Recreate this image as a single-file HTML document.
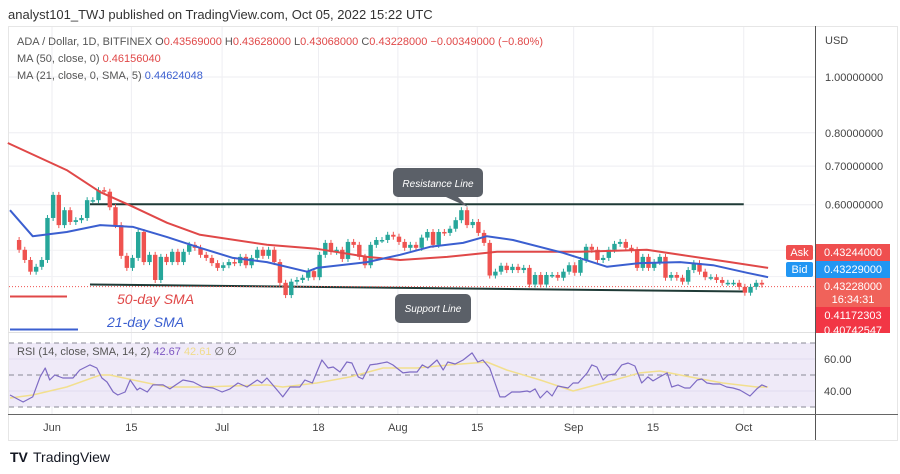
<!DOCTYPE html>
<html><head><meta charset="utf-8">
<style>
html,body{margin:0;padding:0;background:#fff;width:900px;height:474px;overflow:hidden;font-family:"Liberation Sans",sans-serif;}
svg text{font-family:"Liberation Sans",sans-serif;}
</style></head>
<body>
<svg id="c" width="900" height="474" viewBox="0 0 900 474" xmlns="http://www.w3.org/2000/svg">
<text x="8" y="19" font-size="13" fill="#333">analyst101_TWJ published on TradingView.com, Oct 05, 2022 15:22 UTC</text>
<rect x="8.5" y="26.5" width="889" height="414" fill="#fff" stroke="#e6e6e6"/>
<g id="grid"></g>
<rect x="9" y="343" width="806" height="64" fill="#efeaf8"/>
<g id="rsiGuides"></g>
<g id="lines"></g>
<g id="candles"></g>
<g id="mas"></g>
<g id="rsi"></g>
<line x1="815.5" y1="26" x2="815.5" y2="440" stroke="#555"/>
<line x1="8" y1="414.5" x2="898" y2="414.5" stroke="#666"/>
<line x1="8" y1="332.5" x2="815" y2="332.5" stroke="#e0e0e0"/>
<g id="axis"></g>
<g font-size="11">
<text x="17" y="45" fill="#555"><tspan>ADA / Dollar, 1D, BITFINEX  O</tspan><tspan fill="#e04848">0.43569000</tspan><tspan>  H</tspan><tspan fill="#e04848">0.43628000</tspan><tspan>  L</tspan><tspan fill="#e04848">0.43068000</tspan><tspan>  C</tspan><tspan fill="#e04848">0.43228000  −0.00349000 (−0.80%)</tspan></text>
<text x="17" y="62" fill="#555">MA (50, close, 0)  <tspan fill="#e04848">0.46156040</tspan></text>
<text x="17" y="79" fill="#555">MA (21, close, 0, SMA, 5)  <tspan fill="#3b5fd0">0.44624048</tspan></text>
<text x="17" y="355" fill="#555">RSI (14, close, SMA, 14, 2)  <tspan fill="#7e57c2">42.67</tspan>  <tspan fill="#f0dc8c">42.61</tspan>  ∅  ∅</text>
</g>
<g>
<line x1="10" y1="296.5" x2="67" y2="296.5" stroke="#e04848" stroke-width="2"/>
<text x="117" y="304" font-size="14" font-style="italic" fill="#e04848">50-day SMA</text>
<line x1="10" y1="329.5" x2="78" y2="329.5" stroke="#3b5fd0" stroke-width="2"/>
<text x="107" y="327" font-size="14" font-style="italic" fill="#3b5fd0">21-day SMA</text>
<path d="M398 168 H478 a5 5 0 0 1 5 5 V192 a5 5 0 0 1 -5 5 H458 L468 207 L446 197 H398 a5 5 0 0 1 -5 -5 V173 a5 5 0 0 1 5 -5 Z" fill="#5b6068"/>
<text x="438" y="187" font-size="10" font-style="italic" fill="#fff" text-anchor="middle">Resistance Line</text>
<rect x="395" y="294" width="76" height="29" rx="5" fill="#5b6068"/>
<text x="433" y="312" font-size="10" font-style="italic" fill="#fff" text-anchor="middle">Support Line</text>
</g>
<g id="tags"></g>
<g>
<text x="10" y="462" font-size="14" font-weight="bold" fill="#131722">TV</text>
<text x="33" y="462" font-size="14" fill="#131722">TradingView</text>
</g>
</svg>
<script>
// ---------- data ----------
const tickLabels = ["Jun","15","Jul","18","Aug","15","Sep","15","Oct"];
const tickDays = [0,14,30,47,61,75,92,106,122];
const priceTicks = [1.0,0.8,0.7,0.6];
const priceTickLabels = ["1.00000000","0.80000000","0.70000000","0.60000000"];
const rsiTicks = [60,40];
const firstOpen = 0.521;
const closes = [0.501,0.481,0.459,0.468,0.481,0.569,0.624,0.553,0.587,0.560,0.564,0.569,0.611,0.611,0.636,0.632,0.594,0.553,0.489,0.466,0.485,0.538,0.477,0.491,0.444,0.487,0.477,0.497,0.477,0.497,0.511,0.505,0.491,0.485,0.475,0.466,0.471,0.477,0.475,0.487,0.471,0.485,0.501,0.489,0.501,0.477,0.439,0.418,0.441,0.444,0.448,0.460,0.449,0.491,0.515,0.497,0.501,0.483,0.517,0.511,0.487,0.471,0.511,0.521,0.521,0.532,0.528,0.517,0.505,0.511,0.505,0.526,0.538,0.511,0.538,0.536,0.545,0.564,0.587,0.553,0.560,0.536,0.515,0.452,0.459,0.470,0.462,0.468,0.462,0.466,0.436,0.453,0.436,0.453,0.453,0.448,0.459,0.471,0.457,0.481,0.507,0.501,0.481,0.485,0.501,0.513,0.517,0.505,0.501,0.466,0.487,0.466,0.477,0.487,0.448,0.453,0.448,0.441,0.462,0.475,0.459,0.449,0.449,0.444,0.439,0.439,0.439,0.432,0.422,0.432,0.439,0.436];
const lastDay = 125.2;
const ma50Day = [-7.8,2.6,8.5,14.3,20.3,26.1,37.9,46.7,55.6,61.4,69.7,78.5,93.1,104.9,110.8,119.6,126.3];
const ma50 = [0.768,0.689,0.631,0.595,0.558,0.532,0.511,0.503,0.487,0.481,0.487,0.497,0.497,0.501,0.491,0.477,0.466];
const ma21Day = [-7.4,-3.4,2.6,8.5,14.3,20.3,26.1,31.9,37.9,45,46.7,55.6,61.4,66.7,72.5,76.7,81.3,90.1,97.9,103.7,110.8,116.6,122.6,126.3];
const ma21 = [0.587,0.529,0.538,0.553,0.549,0.527,0.505,0.485,0.477,0.459,0.466,0.477,0.491,0.507,0.515,0.529,0.521,0.495,0.468,0.475,0.477,0.471,0.457,0.449];
const rsiDay = [-7.4,-5.1,-3.4,-2.1,-1.2,-0.4,0.5,1.9,3.7,4.9,6.7,7.9,8.8,9.7,10.8,11.6,12.9,13.8,15,15.5,16.8,17.8,19.6,20.8,23.1,24.9,26.6,28.4,30,31.4,32.8,34.4,36.2,37,37.9,39.7,40.7,42,43.7,44.6,45.9,47.6,48.7,49.6,50.8,52,52.9,54,54.8,56.1,57.3,59.1,60.1,61.9,63.1,64.4,65.3,66.3,67.9,69,69.8,71.1,72.5,74.1,75.1,76,77.2,79,79.9,81.1,82.5,83.8,84.3,85.2,86.1,87.3,88.2,89.2,91,91.9,92.8,94.4,95.2,96.1,97.2,98.1,99.3,100.5,101.6,102.8,104,105.1,106,107.2,108.5,109.3,110.4,111.6,112.5,113.8,114.6,115.5,116.6,117.8,119,120.1,121.3,123.1,124.3,125.2,126.1];
const rsi = [37.5,33.1,36.3,48.8,54.4,46.9,50,48.1,48.1,53.1,56.3,54.4,48.1,45.6,39.4,37.5,39.4,46.9,40.6,41.9,39.4,43.8,43.8,41.3,46.9,45.6,42.5,41.9,39.4,41.3,45,42.5,46.9,45,48.1,40.6,36.3,42.5,42.5,46.9,45,59.4,54.4,55,51.9,58.1,57.5,48.8,47.5,56.3,56.9,58.1,56.3,51.3,51.9,51.9,56.3,54.4,59.4,53.1,58.1,56.9,59.4,63.8,58.1,59.4,54.4,36.3,36.3,39.4,39.4,40,39.4,41.3,35.6,40,36.9,43.1,41.9,45,45,51.3,56.3,55,46.9,50,50.6,56.3,57.5,55.6,45,48.8,46.3,48.8,51.3,42.5,43.8,41.9,41.9,46.9,47.5,45,44.4,44.4,42.5,41.9,40.6,36.9,41.3,43.8,42.5];
const rsiMaDay = [-7.4,-3.4,2.6,8.5,10.2,14.3,20.3,26.1,31.9,37.9,40.7,46.7,52.6,58.4,64.4,70.2,76.7,80.2,86.1,91.9,97.9,103.7,107.2,112.5,118.3,124.3,126.3];
const rsiMa = [35.6,37.5,42.5,50,50,46.9,42.5,42.5,43.1,43.8,42.5,45,48.8,54.4,54.4,56.3,58.1,53.1,46.9,40,45.6,51.3,52.5,48.8,45,42.5,42.5];
const resistance = [{d:6.7,p:0.601},{d:122,p:0.601}];
const support = [{d:6.7,p:0.436},{d:122,p:0.424}];
const lastClose = 0.43228;

// ---------- scales ----------
const X0 = 52, DX = 5.67;
const x = d => X0 + d*DX;
const y = p => 77 - 250*Math.log(p);
const ry = v => 359 - (v-60)*1.6;
const NS = "http://www.w3.org/2000/svg";
function mk(tag, attrs, parent){const e=document.createElementNS(NS,tag);for(const k in attrs)e.setAttribute(k,attrs[k]);parent.appendChild(e);return e;}
const $ = id => document.getElementById(id);

// grid
tickDays.forEach(d=>{const l=mk('line',{x1:x(d),x2:x(d),y1:27,y2:414,stroke:'#eeeef2'},$('grid'));

});
priceTicks.forEach(p=>{const l=mk('line',{x1:9,x2:815,y1:y(p),y2:y(p),stroke:'#eeeef2'},$('grid'));

});
[0.5,0.45].forEach(p=>{mk('line',{x1:9,x2:815,y1:y(p),y2:y(p),stroke:'#f1f1f4'},$('grid'));});
[70,50,30].forEach(v=>{const l=mk('line',{x1:9,x2:815,y1:ry(v),y2:ry(v),stroke:'#8a8a96','stroke-dasharray':'5 4'},$('rsiGuides'));

});
rsiTicks.forEach(v=>{mk('line',{x1:9,x2:815,y1:ry(v),y2:ry(v),stroke:'#e2dcf0'},$('rsiGuides'));});

// trend lines
[[resistance,'resistance-line'],[support,'support-line']].forEach(([pts,n])=>{
 const l=mk('line',{x1:x(pts[0].d),y1:y(pts[0].p),x2:x(pts[1].d),y2:y(pts[1].p),stroke:'#1f3a36','stroke-width':2},$('lines'));
 
 
});
// close price dotted
mk('line',{x1:9,x2:815,y1:y(lastClose),y2:y(lastClose),stroke:'#ef5350','stroke-dasharray':'1 2'},$('lines'));

// candles
const n = closes.length;
closes.forEach((c,i)=>{
 const o = i===0?firstOpen:closes[i-1];
 const d = lastDay-(n-1-i);
 const up = c>=o;
 const col = up?'#26a69a':'#ef5350';
 const hi = Math.max(o,c)*1.012, lo=Math.min(o,c)*0.988;
 const g = mk('g',{},$('candles'));
 
 
 mk('line',{x1:x(d),x2:x(d),y1:y(hi),y2:y(lo),stroke:col,'stroke-width':1},g);
 const t=Math.min(y(o),y(c)), h=Math.max(1.5,Math.abs(y(o)-y(c)));
 mk('rect',{x:x(d)-2.2,y:t,width:4.4,height:h,fill:col},g);
});

function poly(ds,vs,fy,color,w,parent,name){
 const pts=ds.map((d,i)=>x(d).toFixed(1)+','+fy(vs[i]).toFixed(1)).join(' ');
 const p=mk('polyline',{points:pts,fill:'none',stroke:color,'stroke-width':w,'stroke-linejoin':'round'},parent);
 
 
}
poly(ma50Day,ma50,y,'#e04848',2,$('mas'),'ma50-line');
poly(ma21Day,ma21,y,'#3b5fd0',2,$('mas'),'ma21-line');
poly(rsiMaDay,rsiMa,ry,'#f2df8e',1.5,$('rsi'),'rsi-ma-line');
poly(rsiDay,rsi,ry,'#7e6bc4',1.2,$('rsi'),'rsi-line');

// axes labels
tickLabels.forEach((t,i)=>{const e=mk('text',{x:x(tickDays[i]),y:431,'font-size':11,fill:'#444','text-anchor':'middle'},$('axis'));e.textContent=t;

});
const usd=mk('text',{x:825,y:44,'font-size':11,fill:'#444'},$('axis'));usd.textContent='USD';
priceTickLabels.forEach((t,i)=>{const e=mk('text',{x:825,y:y(priceTicks[i])+4,'font-size':11,fill:'#444'},$('axis'));e.textContent=t;

});
rsiTicks.forEach(v=>{const e=mk('text',{x:824,y:ry(v)+4,'font-size':11,fill:'#444'},$('axis'));e.textContent=v.toFixed(2);

});

// price tags
const tagData=[
 {y:244,h:17,fill:'#ef4f4f',txt:['0.43244000'],lab:'Ask',lfill:'#ef4f4f'},
 {y:261,h:17,fill:'#2196f3',txt:['0.43229000'],lab:'Bid',lfill:'#2196f3'},
 {y:278,h:29,fill:'#f0625a',txt:['0.43228000','16:34:31']},
 {y:307,h:15,fill:'#f23645',txt:['0.41172303']},
 {y:322,h:11,fill:'#f23645',txt:['0.40742547']}];
tagData.forEach(t=>{
 const g=mk('g',{},$('tags'));
 
 
 mk('rect',{x:816,y:t.y,width:74,height:t.h,fill:t.fill},g);
 t.txt.forEach((s,j)=>{const e=mk('text',{x:853,y:t.y+12+j*13,'font-size':11,fill:'#fff','text-anchor':'middle'},g);e.textContent=s;});
 if(t.lab){mk('rect',{x:786,y:t.y+1,width:27,height:t.h-2,rx:2,fill:t.lfill},g);
  const e=mk('text',{x:799.5,y:t.y+12,'font-size':11,fill:'#fff','text-anchor':'middle'},g);e.textContent=t.lab;}
});
</script>
</body></html>
